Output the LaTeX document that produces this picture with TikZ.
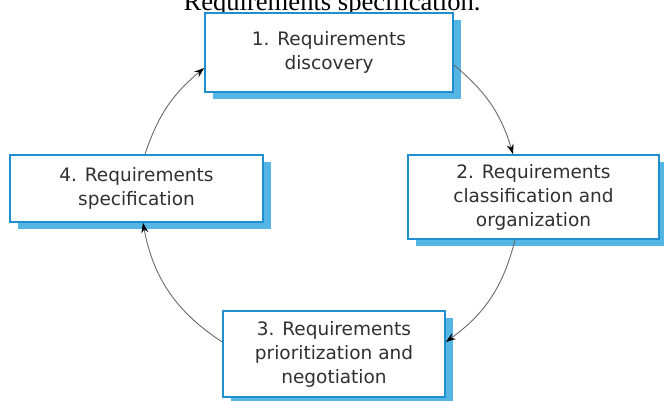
\documentclass[tikz,border=0pt]{standalone}
\usepackage{fontspec}
\setmainfont{Liberation Serif}
\setsansfont{DejaVu Sans}
\usetikzlibrary{arrows.meta,shadows}
\definecolor{RQBlue}{HTML}{1E8FD0}
\definecolor{RQShade}{HTML}{55B6E6}
\definecolor{RQText}{HTML}{303030}
\definecolor{RQLine}{HTML}{6A6A6A}

\begin{document}
\begin{tikzpicture}[x=1pt, y=-1pt,
  phase/.style={draw=RQBlue, line width=1.6pt, fill=white, align=center, inner sep=2pt,
    text=RQText, font=\sffamily\fontsize{18.5}{24}\selectfont,
    drop shadow={shadow xshift=8pt, shadow yshift=-7pt, fill=RQShade, opacity=1}},
  flow/.style={-{Stealth[length=10pt, width=7pt, black]}, draw=RQLine, line width=0.9pt}]
\useasboundingbox (0,0) rectangle (664,400);
\node[anchor=base, font=\fontsize{26.6}{30}\selectfont] (title) at (332,10) {Requirements specification.};
\node[phase, minimum width=248pt, minimum height=79pt] (disc) at (329,52.5) {1. Requirements\\discovery};
\node[phase, minimum width=251pt, minimum height=84pt] (class) at (533.5,197) {2. Requirements\\classification and\\organization};
\node[phase, minimum width=222pt, minimum height=86pt] (prio) at (334,354) {3. Requirements\\prioritization and\\negotiation};
\node[phase, minimum width=253pt, minimum height=67pt] (spec) at (136.5,188.5) {4. Requirements\\specification};
\draw[flow] ([yshift=-12.5pt]disc.east) to[bend left=17] ([xshift=-20.5pt]class.north);
\draw[flow] ([xshift=-18.5pt]class.south) to[bend left=20] ([yshift=12pt]prio.east);
\draw[flow] ([yshift=12pt]prio.west) to[bend left=23] ([xshift=6.5pt]spec.south);
\draw[flow] ([xshift=8.5pt]spec.north) to[bend left=16] ([yshift=-15.5pt]disc.west);
\end{tikzpicture}
\end{document}
